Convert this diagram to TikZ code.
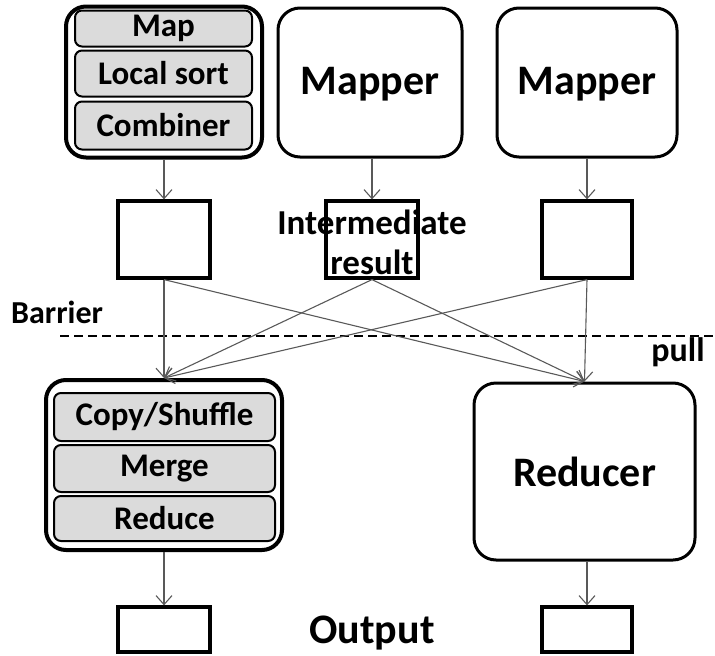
\documentclass[tikz,border=0pt]{standalone}
\usepackage{fontspec}
\setmainfont{Carlito}
\usetikzlibrary{arrows.meta}
\tikzset{
  container/.style={draw, line width=4pt, rounded corners=20pt, fill=white},
  stage/.style={draw, fill=gray!28, line width=2pt, rounded corners=7pt,
    font=\fontsize{33}{35}\selectfont\bfseries, inner sep=0pt},
  bigbox/.style={draw, line width=3pt, rounded corners=22pt,
    font=\fontsize{42}{44}\selectfont\bfseries},
  mapperbox/.style={bigbox, text height=30pt, text depth=5.5pt},
  slot/.style={draw, line width=3.2pt, inner sep=0pt},
  flow/.style={draw=black!65, line width=1.1pt,
    -{Straight Barb[length=9pt,width=16pt,line width=1.1pt]}},
  lbl/.style={font=\fontsize{32}{34}\selectfont\bfseries, inner sep=0pt}
}
\begin{document}
\begin{tikzpicture}[x=1pt, y=-1pt]
\useasboundingbox (0,0) rectangle (715,656);

% map-side task with its three stages
\node[container, minimum width=196pt, minimum height=151pt] (mapA) at (164,82) {};
\node[stage, minimum width=177pt, minimum height=36pt] (mapS) at (163.5,28.5) {Map};
\node[stage, minimum width=177pt, minimum height=46pt] (sortS) at (163.5,73.5) {Local sort};
\node[stage, minimum width=177pt, minimum height=48pt] (combS) at (163.5,125.5) {Combiner};

% the other two mappers
\node[mapperbox, minimum width=184pt, minimum height=149pt] (mapB) at (370,82.5) {Mapper};
\node[mapperbox, minimum width=180pt, minimum height=149pt] (mapC) at (587,82.5) {Mapper};

% intermediate results
\node[lbl, align=center, font=\fontsize{35}{40}\selectfont\bfseries] (inter) at (372,242) {Intermediate\\result};
\node[slot, minimum width=92pt, minimum height=77pt] (midA) at (164,239.5) {};
\node[slot, minimum width=92pt, minimum height=77pt] (midB) at (372,239.5) {};
\node[slot, minimum width=90pt, minimum height=77pt] (midC) at (587,239.5) {};

% barrier
\node[lbl, anchor=west] (barrier) at (11,312) {Barrier};
\coordinate (dashL) at (60,336);
\coordinate (dashR) at (715,336);
\draw[dashed, line width=1.2pt, dash pattern=on 9pt off 5pt] (dashL) -- (dashR);
\node[lbl, font=\fontsize{34}{36}\selectfont\bfseries] (pull) at (678,352) {pull};

% reduce-side task with its three stages
\node[container, minimum width=236pt, minimum height=170pt] (redA) at (164,465) {};
\node[stage, minimum width=221pt, minimum height=48pt] (copyS) at (164.5,417) {Copy/Shuffle};
\node[stage, minimum width=221pt, minimum height=47pt] (mergeS) at (164.5,468.5) {Merge};
\node[stage, minimum width=221pt, minimum height=45pt] (reduceS) at (164.5,518.5) {Reduce};

% the other reducer
\node[bigbox, minimum width=221pt, minimum height=177pt] (redB) at (584.5,471.5) {Reducer};

% outputs
\node[slot, minimum width=92pt, minimum height=45pt] (outA) at (164,629.5) {};
\node[slot, minimum width=90pt, minimum height=45pt] (outB) at (587,629.5) {};
\node[lbl, font=\fontsize{42}{44}\selectfont\bfseries] (output) at (372,633) {Output};

% connectors
\draw[flow] (mapA.south) -- (midA.north);
\draw[flow] (mapB.south -| midB.north) -- (midB.north);
\draw[flow] (mapC.south) -- (midC.north);

\draw[flow] (midA.south) -- (redA.north);
\draw[flow] (midA.south) -- (redB.north);
\draw[flow] (midB.south) -- (redA.north);
\draw[flow] (midB.south) -- (redB.north);
\draw[flow] (midC.south) -- (redA.north);
\draw[flow] (midC.south) -- (redB.north);

\draw[flow] (redA.south) -- (outA.north);
\draw[flow] (redB.south -| outB.north) -- (outB.north);
\end{tikzpicture}
\end{document}
